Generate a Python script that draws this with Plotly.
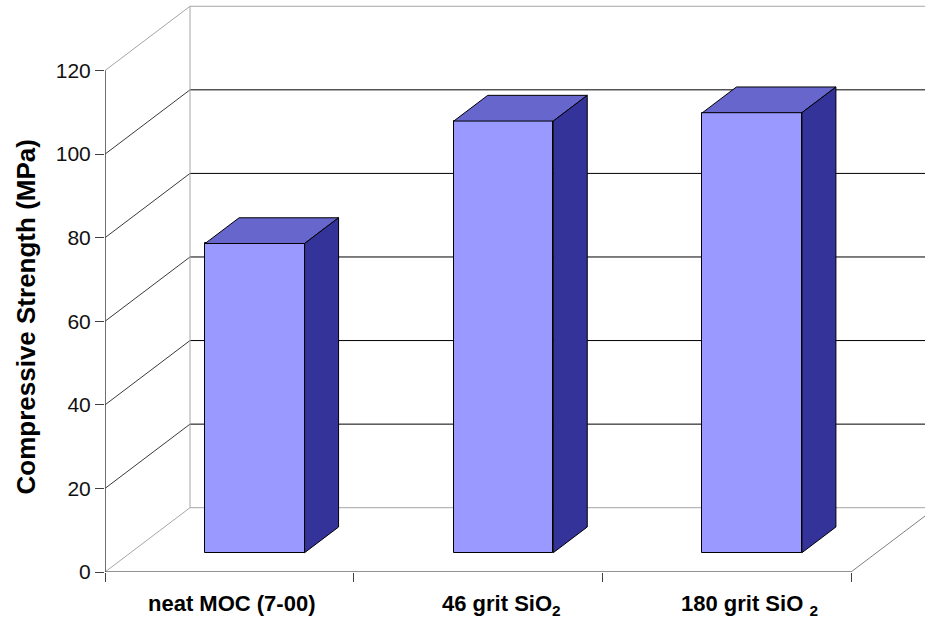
import plotly.graph_objects as go

# Data
categories = ["neat MOC (7-00)", "46 grit SiO<sub>2</sub>", "180 grit SiO <sub>2</sub>"]
strength = [74.0, 103.3, 105.3]
y_ticks = [0, 20, 40, 60, 80, 100, 120]

# Pseudo-3D geometry (in axis units)
PX_PER_CAT = 248.67
PX_PER_VAL = 4.1786
DX = 85 / PX_PER_CAT          # full wall depth, horizontal
DY = 64.3 / PX_PER_VAL        # full wall depth, vertical
FRONT = 0.3                   # depth fraction of the bar front face
BAR_DEPTH = 0.4               # depth fraction occupied by a bar
BAR_W = 0.4
N = len(categories)
XMIN = -0.5
FONT = "Arial, Liberation Sans, sans-serif"

FACE = "#9999FF"
TOP = "#6666CC"
SIDE = "#333399"

fig = go.Figure()

# Front faces of the columns
xs = [i + FRONT * DX for i in range(N)]
base = FRONT * DY
fig.add_trace(go.Bar(
    x=xs, y=strength, base=[base] * N, width=BAR_W,
    marker=dict(color=FACE, line=dict(color="#000000", width=1)),
    hoverinfo="skip", showlegend=False,
))

# Top and side faces computed from each value
ddx = BAR_DEPTH * DX
ddy = BAR_DEPTH * DY
for xc, v in zip(xs, strength):
    x0, x1 = xc - BAR_W / 2, xc + BAR_W / 2
    top = base + v
    fig.add_trace(go.Scatter(
        x=[x0, x1, x1 + ddx, x0 + ddx, x0],
        y=[top, top, top + ddy, top + ddy, top],
        mode="lines", fill="toself", fillcolor=TOP,
        line=dict(color="#000000", width=1),
        hoverinfo="skip", showlegend=False,
    ))
    fig.add_trace(go.Scatter(
        x=[x1, x1 + ddx, x1 + ddx, x1, x1],
        y=[base, base + ddy, top + ddy, top, base],
        mode="lines", fill="toself", fillcolor=SIDE,
        line=dict(color="#000000", width=1),
        hoverinfo="skip", showlegend=False,
    ))

# Walls, floor and gridlines
shapes = []
XMAX = XMIN + N
def seg(x0, y0, x1, y1, color, width=1):
    shapes.append(dict(type="line", xref="x", yref="y", x0=x0, y0=y0, x1=x1, y1=y1,
                       line=dict(color=color, width=width), layer="below"))

edge = "#A6A6A6"
for v in y_ticks:
    c_back = edge if v in (y_ticks[0], y_ticks[-1]) else "#000000"
    c_diag = edge if v in (y_ticks[0], y_ticks[-1]) else "#3A3A3A"
    seg(XMIN, v, XMIN + DX, v + DY, c_diag)
    seg(XMIN + DX, v + DY, XMAX + DX, v + DY, c_back)
seg(XMIN + DX, DY, XMIN + DX, y_ticks[-1] + DY, edge)
seg(XMAX, 0, XMAX + DX, DY, "#808080")
seg(XMIN, 0, XMAX, 0, "#6E6E6E", 1.5)
seg(XMIN, 0, XMIN, y_ticks[-1], "#404040", 1.5)

# Category labels
label_shift = [2, 23, 23]
annotations = []
for i, (lab, sh) in enumerate(zip(categories, label_shift)):
    annotations.append(dict(
        x=i, y=0, xref="x", yref="paper", xanchor="center", yanchor="top",
        xshift=sh, yshift=-17, text="<b>%s</b>" % lab, showarrow=False,
        font=dict(family=FONT, size=22, color="#000000"),
    ))
annotations.append(dict(
    x=0, y=1 - 317.5 / 572, xref="paper", yref="paper", xanchor="center", yanchor="middle",
    xshift=-80, text="<b>Compressive Strength (MPa)</b>", textangle=-90, showarrow=False,
    font=dict(family=FONT, size=26, color="#000000"),
))

fig.update_layout(
    width=925, height=618,
    margin=dict(l=105, r=0, t=0, b=46, pad=0),
    paper_bgcolor="white", plot_bgcolor="white",
    shapes=shapes, annotations=annotations,
    xaxis=dict(range=[XMIN, XMIN + 820 / PX_PER_CAT], showgrid=False, zeroline=False,
               showline=False, tickvals=[XMIN + k for k in range(N + 1)],
               showticklabels=False, ticks="outside", ticklen=9,
               tickcolor="#404040", tickwidth=1),
    yaxis=dict(range=[0, 572 / PX_PER_VAL], showgrid=False, zeroline=False,
               showline=False, tickvals=y_ticks, ticks="outside", ticklen=9,
               tickcolor="#404040", tickwidth=1,
               tickfont=dict(family=FONT, size=21, color="#111111")),
    bargap=0,
)

fig.write_html("out.html")
